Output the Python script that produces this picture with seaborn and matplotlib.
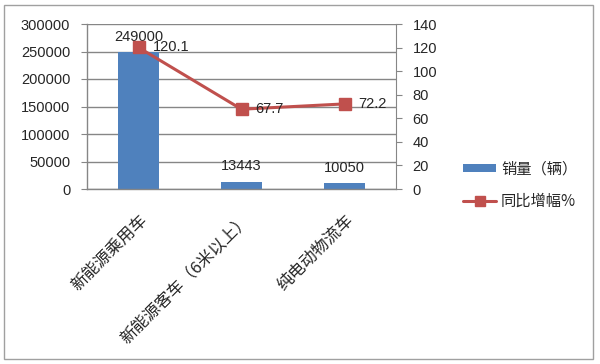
import numpy as np
import pandas as pd
import matplotlib
matplotlib.use('Agg')
import matplotlib.pyplot as plt
import seaborn as sns
from matplotlib.patches import Patch, Rectangle
from matplotlib.lines import Line2D

categories = ['新能源乘用车', '新能源客车（6米以上）', '纯电动物流车']
sales = [249000, 13443, 10050]
growth = [120.1, 67.7, 72.2]
sales_label = '销量（辆）'
growth_label = '同比增幅%'

BarColor = '#4F81BD'
LineColor = '#C0504D'
GridColor = '#868686'

sns.set_style('white')
plt.rcParams['font.family'] = ['Liberation Sans', 'Noto Sans CJK SC']
plt.rcParams['font.size'] = 10.5

df = pd.DataFrame({'cat': categories, 'sales': sales, 'growth': growth})

fig = plt.figure(figsize=(6, 3.64), dpi=100)
ax = fig.add_axes([87/600, 1-189/364, (396-87)/600, (189-24)/364])

#bars on the left axis
sns.barplot(x='cat', y='sales', data=df, ax=ax, color=BarColor, width=0.4,
            saturation=1, edgecolor='none')
ax.set_ylim(0, 300000)
ax.set_yticks(np.arange(0, 300001, 50000))
ax.set_xlim(-0.5, 2.5)
ax.set_xticks([-0.5, 0.5, 1.5, 2.5], minor=False)
ax.set_xticklabels([])
ax.set_xticks([0, 1, 2], minor=True)
ax.set_xticklabels(categories, minor=True, rotation=45, ha='right',
                   rotation_mode='anchor', fontsize=12,
                   family=['Noto Sans CJK SC', 'DejaVu Sans'])
ax.tick_params(axis='x', which='minor', length=0, pad=16)
ax.tick_params(axis='x', which='major', length=4, color=GridColor, direction='out')
ax.tick_params(axis='y', length=4, color=GridColor, direction='out', pad=8)
ax.set_xlabel('')
ax.set_ylabel('')
ax.yaxis.grid(True, color=GridColor, lw=1)
ax.set_axisbelow(True)
for s in ['top', 'right']:
    ax.spines[s].set_visible(False)
for s in ['left', 'bottom']:
    ax.spines[s].set_color(GridColor)
    ax.spines[s].set_linewidth(1)

for i, v in enumerate(sales):
    ax.annotate(str(v), (i, v), xytext=(0, 6), textcoords='offset points',
                ha='center', va='bottom', fontsize=10.5)

#growth line on the right axis
ax2 = ax.twinx()
ax2.plot(range(len(growth)), growth, color=LineColor, lw=2.2, marker='s',
         markersize=9)
ax2.set_ylim(0, 140)
ax2.set_yticks(np.arange(0, 141, 20))
ax2.tick_params(axis='y', length=4, color=GridColor, direction='out', pad=8)
for s in ['top', 'left', 'bottom']:
    ax2.spines[s].set_visible(False)
ax2.spines['right'].set_color(GridColor)
for i, v in enumerate(growth):
    ax2.annotate(str(v), (i, v), xytext=(10, 0), textcoords='offset points',
                 ha='left', va='center', fontsize=10.5)

handles = [Patch(facecolor=BarColor, edgecolor='none'),
           Line2D([0], [0], color=LineColor, lw=2.2, marker='s', markersize=7)]
leg = fig.legend(handles, [sales_label, growth_label], loc='upper left',
                 bbox_to_anchor=(449/600, 1-147/364), frameon=False,
                 handlelength=2.2, handleheight=0.45, labelspacing=1.0,
                 handletextpad=0.3, prop={'family': ['Noto Sans CJK SC'], 'size': 11})

fig.patches.append(Rectangle((4/600, 5/364), 589/600, 354/364, transform=fig.transFigure,
                             fill=False, edgecolor='#A0A0A0', lw=1))

fig.savefig('out.png', dpi=100)
